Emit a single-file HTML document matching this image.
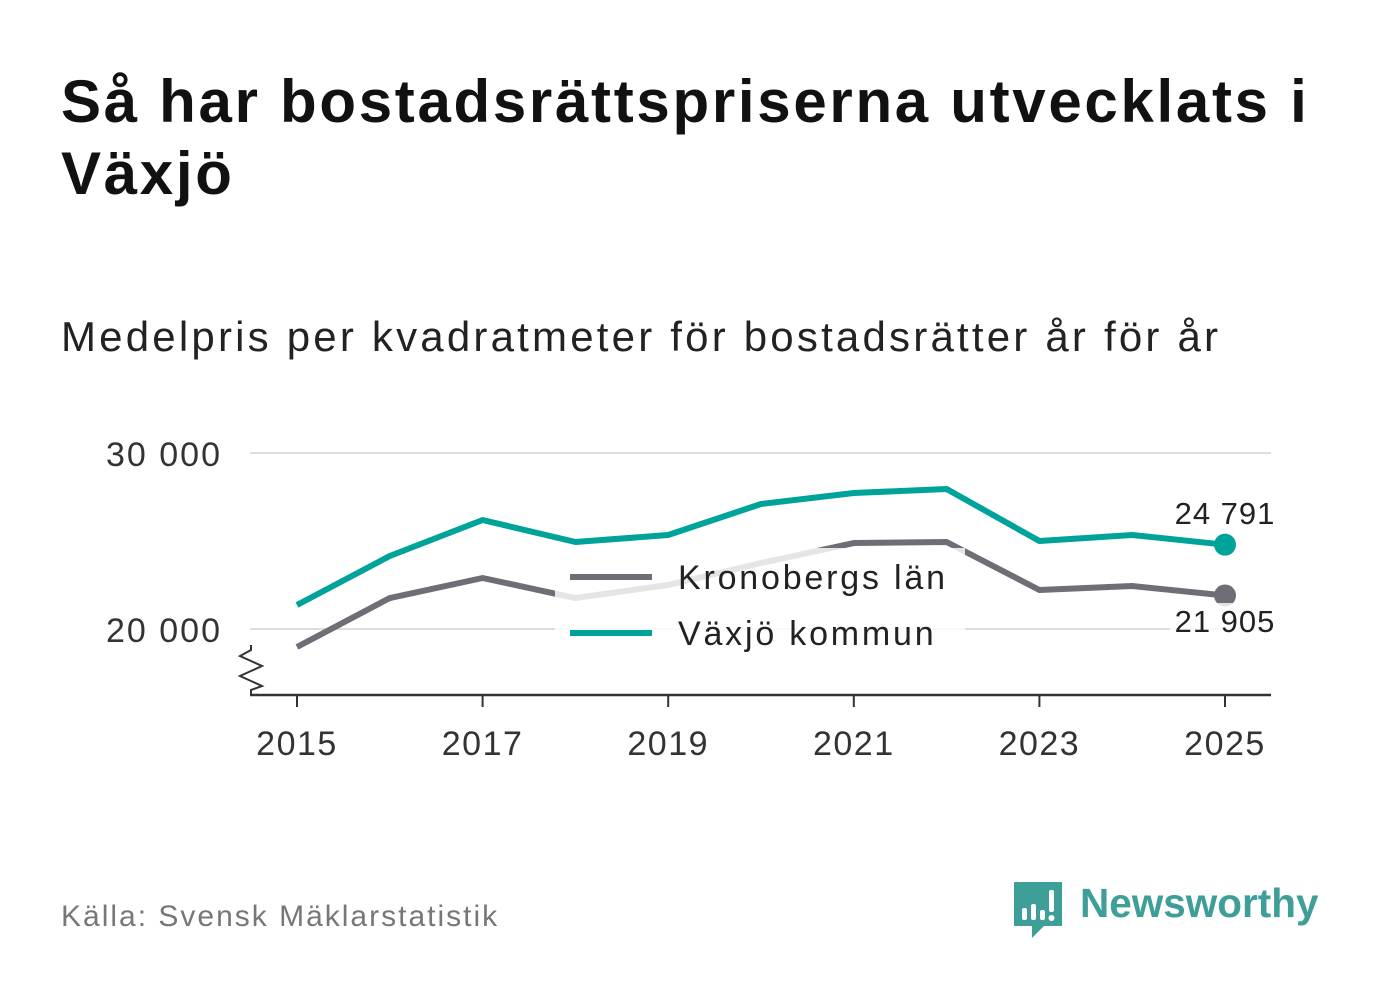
<!DOCTYPE html>
<html><head><meta charset="utf-8"><style>
body{margin:0;width:1382px;height:999px;background:#fff;font-family:"Liberation Sans","DejaVu Sans",sans-serif;overflow:hidden;position:relative}
.t{position:absolute;color:#111}
</style></head><body>
<div class="t" style="left:61px;top:66px;font-size:60px;font-weight:bold;line-height:72px;width:1300px;letter-spacing:2.7px">Så har bostadsrättspriserna utvecklats i Växjö</div>
<div class="t" style="left:61px;top:313px;font-size:42px;color:#222;letter-spacing:3.2px;white-space:nowrap">Medelpris per kvadratmeter för bostadsrätter år för år</div>
<svg id="chart" width="1382" height="999" style="position:absolute;left:0;top:0"></svg>
<div class="t" style="left:61px;top:900px;font-size:30px;color:#777;letter-spacing:2px">Källa: Svensk Mäklarstatistik</div>
<div style="position:absolute;left:1012px;top:880px">
<svg width="52" height="60"><path d="M2 2h48v44H32l-12 12v-12H2z" fill="#3e9e98"/><rect x="10" y="28" width="5" height="12" rx="2" fill="#fff"/><rect x="19" y="24" width="5" height="16" rx="2" fill="#fff"/><rect x="28" y="30" width="5" height="10" rx="2" fill="#fff"/><rect x="37" y="10" width="5" height="22" rx="2" fill="#fff"/><circle cx="39.5" cy="38" r="3" fill="#fff"/></svg>
<span style="position:absolute;left:68px;top:0px;font-size:40.5px;font-weight:bold;color:#3e9e98;white-space:nowrap">Newsworthy</span></div>
<script>
const years=[2015,2016,2017,2018,2019,2020,2021,2022,2023,2024,2025];
const kronoberg=[18977,21761,22898,21761,22500,23750,24886,24943,22216,22443,21905];
const vaxjo=[21364,24148,26193,24943,25341,27102,27727,27955,25000,25341,24791];
const yTicks=[20000,30000];
const xTicks=[2015,2017,2019,2021,2023,2025];
const svg=document.getElementById('chart');const NS='http://www.w3.org/2000/svg';
const x=v=>297+(v-2015)*92.8;const y=v=>629-(v-20000)*0.0176;
function el(t,a,txt){const e=document.createElementNS(NS,t);for(const k in a)e.setAttribute(k,a[k]);if(txt!=null)e.textContent=txt;svg.appendChild(e);return e;}
const fmt=v=>String(v).replace(/\B(?=(\d{3})+$)/g,' ');
yTicks.forEach(v=>{let g=el('line',{x1:250,x2:1271,y1:y(v),y2:y(v),stroke:'#ddd','stroke-width':2});
let t=el('text',{x:222,y:y(v)+13,'text-anchor':'end','font-size':34,fill:'#333','letter-spacing':2},fmt(v));});
let ax=el('line',{x1:250,x2:1271,y1:695,y2:695,stroke:'#333','stroke-width':2.5});
let br=el('path',{d:'M251 645 L251 650 L240 656 L262 666 L240 676 L262 686 L251 690 L251 695',fill:'none',stroke:'#333','stroke-width':2});
xTicks.forEach(v=>{let l=el('line',{x1:x(v),x2:x(v),y1:695,y2:707,stroke:'#333','stroke-width':2});
let t=el('text',{x:x(v),y:755,'text-anchor':'middle','font-size':34,fill:'#333','letter-spacing':1.5},v);});
function series(d,c,n){let p=el('polyline',{points:d.map((v,i)=>x(years[i])+','+y(v)).join(' '),fill:'none',stroke:c,'stroke-width':6,'stroke-linejoin':'round'});
let c2=el('circle',{cx:x(years[years.length-1]),cy:y(d[d.length-1]),r:11,fill:c});}
series(kronoberg,'#6f6e77','kronoberg');series(vaxjo,'#00a39a','vaxjo');
let l1=el('text',{x:1225,y:524,'text-anchor':'middle','font-size':31,fill:'#222','letter-spacing':1},fmt(vaxjo[10]));
let bg=el('rect',{x:1170,y:603,width:110,height:34,fill:'#fff',opacity:0.8});
let l2=el('text',{x:1225,y:632,'text-anchor':'middle','font-size':31,fill:'#222','letter-spacing':1},fmt(kronoberg[10]));
let lg=el('rect',{x:555,y:548,width:410,height:112,fill:'#fff',opacity:0.82});
[['Kronobergs län','#6f6e77',577],['Växjö kommun','#00a39a',633]].forEach(([n,c,yy])=>{let s=el('line',{x1:570,x2:652,y1:yy,y2:yy,stroke:c,'stroke-width':6});
let t=el('text',{x:678,y:yy+12,'font-size':34,fill:'#222','letter-spacing':2.8},n);});
</script>
</body></html>
